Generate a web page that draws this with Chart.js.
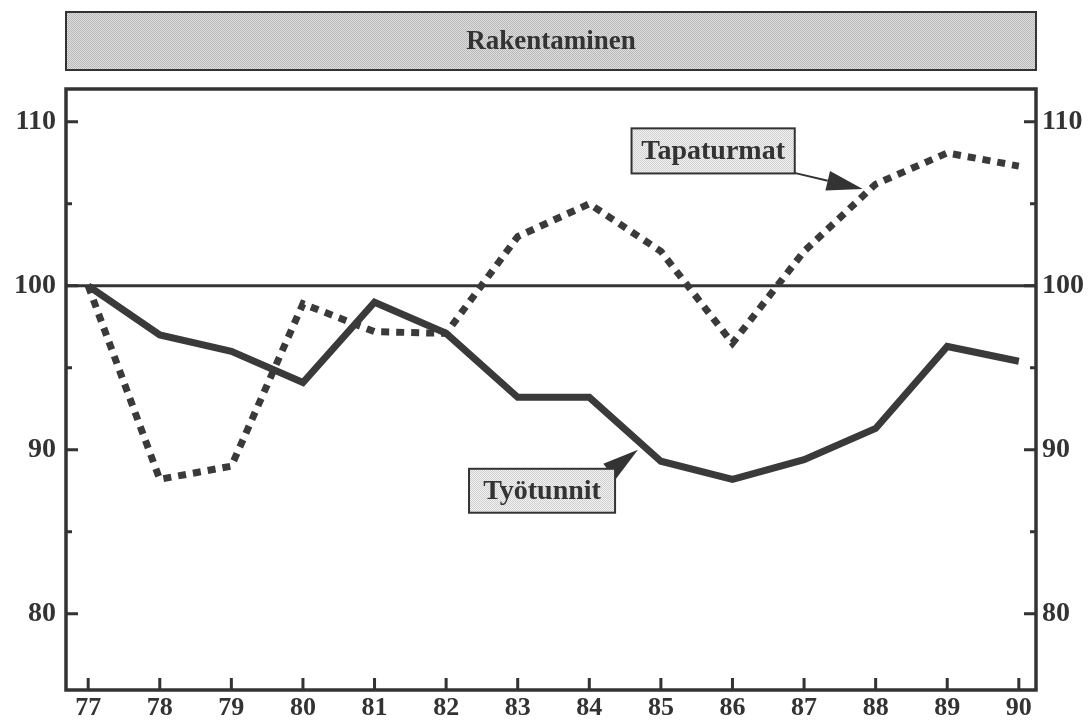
<!DOCTYPE html>
<html>
<head>
<meta charset="utf-8">
<title>Rakentaminen</title>
<script src="https://cdn.jsdelivr.net/npm/chart.js@4/dist/chart.umd.min.js"></script>
<style>
  html, body { margin: 0; padding: 0; background: #fff; }
  #wrap { width: 1088px; height: 725px; }
</style>
</head>
<body>
<div id="wrap"><canvas id="c" width="1088" height="725"></canvas></div>
<script>
// Index series, 1977 = 100
const years = [77, 78, 79, 80, 81, 82, 83, 84, 85, 86, 87, 88, 89, 90];
const yearLabels = ['77', '78', '79', '80', '81', '82', '83', '84', '85', '86', '87', '88', '89', '90'];
const tyotunnit = [100, 97, 96, 94.1, 99, 97.1, 93.2, 93.2, 89.3, 88.2, 89.4, 91.3, 96.3, 95.4];
const tapaturmat = [100, 88.2, 89, 98.9, 97.2, 97.1, 103, 105, 102.1, 96.5, 102.1, 106.2, 108.1, 107.3];
const majorTicks = [80, 90, 100, 110];
const minorTicks = [85, 95, 105];
const baseLevel = 100;
const titleText = 'Rakentaminen';

const INK = '#333333';
const LINE = '#3a3a3a';
const FONT = '"Liberation Serif", "Times New Roman", serif';

function stipple(light, dark) {
  const p = document.createElement('canvas');
  p.width = 2; p.height = 2;
  const g = p.getContext('2d');
  g.fillStyle = light; g.fillRect(0, 0, 2, 2);
  g.fillStyle = dark; g.fillRect(0, 0, 1, 1); g.fillRect(1, 1, 1, 1);
  return p;
}

// Callout boxes placed in data units, pointing at a spot on a line
const callouts = [
  { text: 'Tapaturmat', x0: 84.59, x1: 86.87, yTop: 109.6, yBot: 106.85, from: [86.85, 106.9], tip: [87.82, 105.9], head: 36 },
  { text: 'Työtunnit', x0: 82.32, x1: 84.36, yTop: 88.84, yBot: 86.16, from: [84.15, 88.23], tip: [84.68, 90.0], head: 36 }
];

const framePlugin = {
  id: 'frame',
  beforeDatasetsDraw(chart) {
    const { ctx, chartArea: a, scales } = chart;
    const y = scales.y.getPixelForValue(baseLevel);
    ctx.save();
    ctx.strokeStyle = INK;
    ctx.lineWidth = 3;
    ctx.beginPath();
    ctx.moveTo(a.left, y);
    ctx.lineTo(a.right, y);
    ctx.stroke();
    ctx.restore();
  },
  afterDatasetsDraw(chart) {
    const { ctx, chartArea: a, scales } = chart;
    ctx.save();
    ctx.strokeStyle = INK;
    ctx.lineCap = 'square';
    // frame
    ctx.lineWidth = 3.5;
    ctx.strokeRect(a.left, a.top, a.right - a.left, a.bottom - a.top);
    // inward tick marks
    ctx.lineWidth = 3;
    ctx.lineCap = 'butt';
    ctx.beginPath();
    years.forEach(v => {
      const x = scales.x.getPixelForValue(v);
      ctx.moveTo(x, a.bottom); ctx.lineTo(x, a.bottom - 12);
    });
    majorTicks.forEach(v => {
      const yy = scales.y.getPixelForValue(v);
      ctx.moveTo(a.left, yy); ctx.lineTo(a.left + 12, yy);
      ctx.moveTo(a.right, yy); ctx.lineTo(a.right - 12, yy);
    });
    minorTicks.forEach(v => {
      const yy = scales.y.getPixelForValue(v);
      ctx.moveTo(a.left, yy); ctx.lineTo(a.left + 6, yy);
      ctx.moveTo(a.right, yy); ctx.lineTo(a.right - 6, yy);
    });
    ctx.stroke();

    // title band above the plot
    const tb = { x: a.left, y: 12, w: a.right - a.left, h: 58 };
    ctx.fillStyle = ctx.createPattern(stipple('#dedede', '#b8b8b8'), 'repeat');
    ctx.fillRect(tb.x, tb.y, tb.w, tb.h);
    ctx.lineWidth = 2;
    ctx.strokeStyle = INK;
    ctx.strokeRect(tb.x, tb.y, tb.w, tb.h);
    ctx.fillStyle = INK;
    ctx.font = 'bold 27px ' + FONT;
    ctx.textAlign = 'center';
    ctx.textBaseline = 'middle';
    ctx.fillText(titleText, tb.x + tb.w / 2, tb.y + tb.h / 2 + 1);

    // callouts
    callouts.forEach(c => {
      const X = v => scales.x.getPixelForValue(v);
      const Y = v => scales.y.getPixelForValue(v);
      const fx = X(c.from[0]), fy = Y(c.from[1]);
      const tx = X(c.tip[0]), ty = Y(c.tip[1]);
      const dx = tx - fx, dy = ty - fy, len = Math.hypot(dx, dy);
      const ux = dx / len, uy = dy / len;
      const bx = tx - ux * c.head, by = ty - uy * c.head;
      ctx.strokeStyle = INK;
      ctx.lineWidth = 2;
      ctx.beginPath();
      ctx.moveTo(fx, fy); ctx.lineTo(bx, by);
      ctx.stroke();
      ctx.fillStyle = INK;
      ctx.beginPath();
      ctx.moveTo(tx, ty);
      ctx.lineTo(bx - uy * 10, by + ux * 10);
      ctx.lineTo(bx + uy * 10, by - ux * 10);
      ctx.closePath();
      ctx.fill();

      const x0 = X(c.x0), x1 = X(c.x1), y0 = Y(c.yTop), y1 = Y(c.yBot);
      ctx.fillStyle = ctx.createPattern(stipple('#f2f2f2', '#d0d0d0'), 'repeat');
      ctx.fillRect(x0, y0, x1 - x0, y1 - y0);
      ctx.lineWidth = 2;
      ctx.strokeRect(x0, y0, x1 - x0, y1 - y0);
      ctx.fillStyle = INK;
      ctx.font = 'bold 28px ' + FONT;
      ctx.textAlign = 'center';
      ctx.textBaseline = 'middle';
      ctx.fillText(c.text, (x0 + x1) / 2, (y0 + y1) / 2 + 1);
    });
    ctx.restore();
  }
};

const xFont = { family: FONT, size: 26, weight: 'bold' };
const yFont = { family: FONT, size: 28, weight: 'bold' };

new Chart(document.getElementById('c'), {
  type: 'line',
  data: {
    datasets: [
      {
        label: 'Työtunnit',
        data: years.map((yr, i) => ({ x: yr, y: tyotunnit[i] })),
        borderColor: LINE,
        borderWidth: 7,
        borderJoinStyle: 'miter',
        pointRadius: 0,
        tension: 0,
        fill: false
      },
      {
        label: 'Tapaturmat',
        data: years.map((yr, i) => ({ x: yr, y: tapaturmat[i] })),
        borderColor: LINE,
        borderWidth: 7,
        borderDash: [8, 7],
        borderCapStyle: 'butt',
        pointRadius: 0,
        tension: 0,
        fill: false
      }
    ]
  },
  options: {
    responsive: false,
    animation: false,
    events: [],
    layout: { padding: { top: 89, left: 0, right: 0, bottom: 0 } },
    plugins: { legend: { display: false }, tooltip: { enabled: false }, title: { display: false } },
    scales: {
      x: {
        type: 'linear',
        min: 76.69,
        max: 90.24,
        grid: { display: false, drawTicks: false },
        border: { display: false },
        afterBuildTicks: s => { s.ticks = years.map(v => ({ value: v })); },
        afterFit: s => { s.height = 35; },
        ticks: {
          padding: 3,
          color: INK,
          font: xFont,
          maxRotation: 0,
          autoSkip: false,
          callback: v => yearLabels[years.indexOf(v)]
        }
      },
      y: {
        position: 'left',
        min: 75.35,
        max: 112,
        grid: { display: false, drawTicks: false },
        border: { display: false },
        afterBuildTicks: s => { s.ticks = majorTicks.map(v => ({ value: v })); },
        afterFit: s => { s.width = 66; },
        ticks: { padding: 10, color: INK, font: yFont, callback: v => String(v) }
      },
      y2: {
        position: 'right',
        min: 75.35,
        max: 112,
        grid: { display: false, drawTicks: false },
        border: { display: false },
        afterBuildTicks: s => { s.ticks = majorTicks.map(v => ({ value: v })); },
        afterFit: s => { s.width = 52; },
        ticks: { padding: 6, color: INK, font: yFont, callback: v => String(v) }
      }
    }
  },
  plugins: [framePlugin]
});
</script>
</body>
</html>
